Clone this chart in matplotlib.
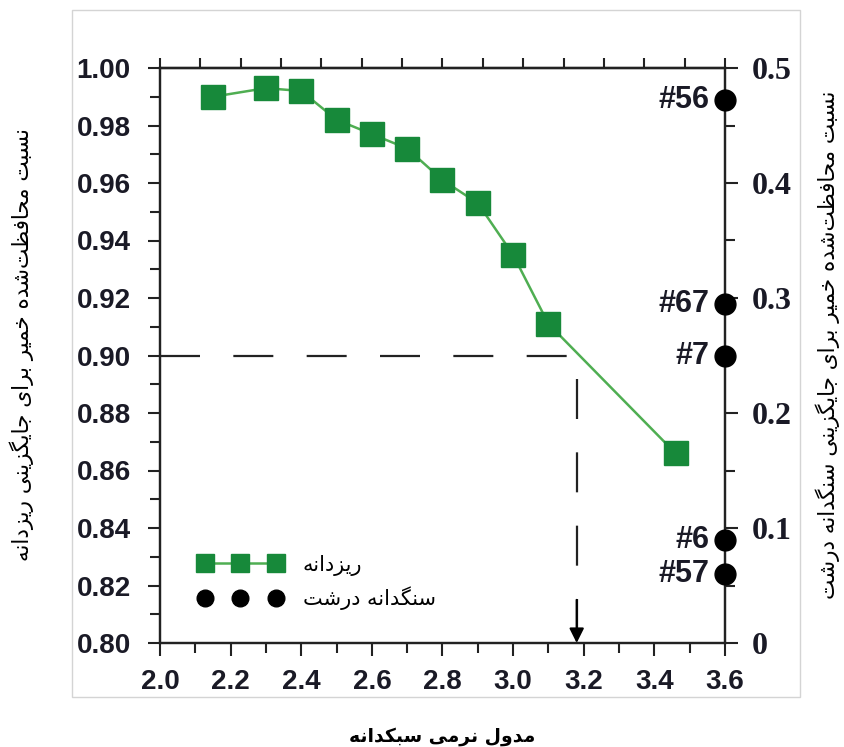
import numpy as np
import matplotlib
matplotlib.use('Agg')
import matplotlib.pyplot as plt
from matplotlib.patches import Rectangle
from matplotlib.ticker import MultipleLocator, FuncFormatter

# fine aggregate replacement
fine_x = [2.15, 2.3, 2.4, 2.5, 2.6, 2.7, 2.8, 2.9, 3.0, 3.1, 3.46]
fine_y = [0.990, 0.993, 0.992, 0.982, 0.977, 0.972, 0.961, 0.953, 0.935, 0.911, 0.866]

# coarse aggregate replacement (all at modulus 3.6)
coarse_names = ['#56', '#67', '#7', '#6', '#57']
coarse_x = [3.6, 3.6, 3.6, 3.6, 3.6]
coarse_y = [0.472, 0.295, 0.25, 0.09, 0.06]

threshold = 0.90
x_cross = 3.18

xlabel_fa = "مدول نرمی سبکدانه"
ylabel_left_fa = "نسبت محافظت\u200cشده خمیر برای جایگزینی ریزدانه"
ylabel_right_fa = "نسبت محافظت\u200cشده خمیر برای جایگزینی سنگدانه درشت"
legend_fa = ["ریزدانه", "سنگدانه درشت"]

# contextual forms: isolated, final, initial, medial
FORMS = {
    '\u0627': ('\uFE8D', '\uFE8E', None, None),
    '\u0628': ('\uFE8F', '\uFE90', '\uFE91', '\uFE92'),
    '\u062A': ('\uFE95', '\uFE96', '\uFE97', '\uFE98'),
    '\u062C': ('\uFE9D', '\uFE9E', '\uFE9F', '\uFEA0'),
    '\u062D': ('\uFEA1', '\uFEA2', '\uFEA3', '\uFEA4'),
    '\u062E': ('\uFEA5', '\uFEA6', '\uFEA7', '\uFEA8'),
    '\u062F': ('\uFEA9', '\uFEAA', None, None),
    '\u0631': ('\uFEAD', '\uFEAE', None, None),
    '\u0632': ('\uFEAF', '\uFEB0', None, None),
    '\u0633': ('\uFEB1', '\uFEB2', '\uFEB3', '\uFEB4'),
    '\u0634': ('\uFEB5', '\uFEB6', '\uFEB7', '\uFEB8'),
    '\u0638': ('\uFEC5', '\uFEC6', '\uFEC7', '\uFEC8'),
    '\u0641': ('\uFED1', '\uFED2', '\uFED3', '\uFED4'),
    '\u06A9': ('\uFB8E', '\uFB8F', '\uFB90', '\uFB91'),
    '\u06AF': ('\uFB92', '\uFB93', '\uFB94', '\uFB95'),
    '\u0644': ('\uFEDD', '\uFEDE', '\uFEDF', '\uFEE0'),
    '\u0645': ('\uFEE1', '\uFEE2', '\uFEE3', '\uFEE4'),
    '\u0646': ('\uFEE5', '\uFEE6', '\uFEE7', '\uFEE8'),
    '\u0647': ('\uFEE9', '\uFEEA', '\uFEEB', '\uFEEC'),
    '\u0648': ('\uFEED', '\uFEEE', None, None),
    '\u06CC': ('\uFBFC', '\uFBFD', '\uFBFE', '\uFBFF'),
}


def fa(s):
    """shape persian text and put it in visual order"""
    s = s.replace('\u064A', '\u06CC').replace('\u0643', '\u06A9')
    out = []
    for i, ch in enumerate(s):
        if ch not in FORMS:
            out.append(ch)
            continue
        prev = s[i - 1] if i > 0 else ''
        nxt = s[i + 1] if i + 1 < len(s) else ''
        jp = prev in FORMS and FORMS[prev][2] is not None
        jn = FORMS[ch][2] is not None and nxt in FORMS
        f = FORMS[ch]
        if jp and jn:
            out.append(f[3])
        elif jp:
            out.append(f[1])
        elif jn:
            out.append(f[2])
        else:
            out.append(f[0])
    return ''.join(out).replace('\u200c', '')[::-1]


ink = '#1a1a26'
sq_green = '#17893a'
line_green = '#4fae52'

fig = plt.figure(figsize=(8.44, 7.47), dpi=100)
fig.patches.append(Rectangle((72 / 844, 1 - 697 / 747), (800 - 72) / 844, (697 - 10) / 747,
                             transform=fig.transFigure, fill=False, ec='#d4d4d4', lw=1.0))

ax = fig.add_axes([160 / 844, 1 - 643 / 747, (725 - 160) / 844, (643 - 68) / 747])
ax2 = ax.twinx()

ax.set_xlim(2.0, 3.6)
ax.set_ylim(0.80, 1.00)
ax2.set_ylim(0, 0.5)

h1, = ax.plot(fine_x, fine_y, color=line_green, lw=1.8, marker='s', markersize=17,
              markerfacecolor=sq_green, markeredgecolor=sq_green, zorder=3)

ax.plot([2.0, x_cross, x_cross], [threshold, threshold, 0.80], color='#222222', lw=1.6,
        dashes=(18, 15), zorder=2)
ax.annotate('', xy=(x_cross, 0.80), xytext=(x_cross, 0.815),
            arrowprops=dict(arrowstyle='-|>', color='black', lw=1.5, mutation_scale=22,
                            shrinkA=0, shrinkB=0))

h2, = ax2.plot(coarse_x, coarse_y, linestyle='none', marker='o', markersize=15,
               color='black', clip_on=False, zorder=5)
for name, xv, yv in zip(coarse_names, coarse_x, coarse_y):
    ax2.annotate(name, xy=(xv, yv), xytext=(-11, 0), textcoords='offset points',
                 ha='right', va='center', fontsize=22, fontweight='bold',
                 family='Liberation Sans', color=ink)

# ticks
ax.xaxis.set_major_locator(MultipleLocator(0.2))
ax.xaxis.set_minor_locator(MultipleLocator(0.1))
ax.yaxis.set_major_locator(MultipleLocator(0.02))
ax.yaxis.set_minor_locator(MultipleLocator(0.01))
ax.xaxis.set_major_formatter(FuncFormatter(lambda v, p: '%.1f' % v))
ax.yaxis.set_major_formatter(FuncFormatter(lambda v, p: '%.2f' % v))
ax2.yaxis.set_major_locator(MultipleLocator(0.1))
ax2.yaxis.set_minor_locator(MultipleLocator(0.05))
ax2.yaxis.set_major_formatter(FuncFormatter(lambda v, p: '0' if abs(v) < 1e-9 else '%.1f' % v))

ax.tick_params(which='both', direction='out', color='#222222', width=1.5, labelcolor=ink)
ax.tick_params(which='major', length=9)
ax.tick_params(which='minor', length=7)
ax.tick_params(axis='y', pad=12)
ax.tick_params(axis='x', pad=10)
ax2.tick_params(which='both', direction='out', color='#222222', width=1.5, labelcolor=ink)
ax2.tick_params(which='major', length=9, pad=10)
ax2.tick_params(which='minor', length=7)

for lab in ax.get_xticklabels() + ax.get_yticklabels():
    lab.set_fontfamily('Liberation Sans')
    lab.set_fontweight('bold')
    lab.set_fontsize(20)
for lab in ax2.get_yticklabels():
    lab.set_fontfamily('Liberation Serif')
    lab.set_fontweight('bold')
    lab.set_fontsize(23)

top = ax.secondary_xaxis('top')
top.set_xticks(np.linspace(2.0, 3.6, 15))
top.set_xticklabels([])
top.tick_params(direction='out', length=7, width=1.5, color='#222222')

for a in (ax, ax2):
    for sp in a.spines.values():
        sp.set_linewidth(1.6)
        sp.set_color('#222222')
top.spines['top'].set_linewidth(1.6)

# legend
leg = ax2.legend([h1, h2], [fa(t) for t in legend_fa], loc='lower left',
                 bbox_to_anchor=(0.035, 0.025), numpoints=3, handlelength=4.0,
                 frameon=False, prop={'family': 'DejaVu Sans', 'size': 15},
                 handletextpad=1.0, labelspacing=0.5, markerscale=0.8)

fig.text(442 / 844, 1 - 736 / 747, fa(xlabel_fa), ha='center', va='center',
         fontsize=13.5, fontweight='bold', family='DejaVu Sans', color='black')
fig.text(22 / 844, 1 - 345 / 747, fa(ylabel_left_fa), ha='center', va='center',
         rotation=90, fontsize=15.5, family='DejaVu Sans', color='black')
fig.text(828 / 844, 1 - 345 / 747, fa(ylabel_right_fa), ha='center', va='center',
         rotation=90, fontsize=15.5, family='DejaVu Sans', color='black')

fig.savefig('out.png', dpi=100)
